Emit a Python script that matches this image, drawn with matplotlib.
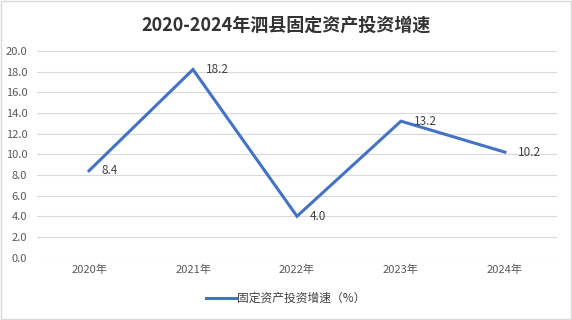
import matplotlib
matplotlib.use("Agg")
import matplotlib.pyplot as plt
from matplotlib.patches import Rectangle

plt.rcParams['font.family'] = ['Noto Sans CJK SC', 'DejaVu Sans']

years = ["2020年", "2021年", "2022年", "2023年", "2024年"]
growth = [8.4, 18.2, 4.0, 13.2, 10.2]
series_name = "固定资产投资增速（%）"
title = "2020-2024年泗县固定资产投资增速"

fig = plt.figure(figsize=(5.72, 3.2), dpi=100)
ax = fig.add_axes([0.0647, 0.195, 0.909, 0.646])

x = list(range(len(years)))
line, = ax.plot(x, growth, color="#4472C4", lw=2.2, solid_joinstyle="miter")

for xi, v in zip(x, growth):
    ax.annotate(f"{v:.1f}", (xi, v), xytext=(9, 0), textcoords="offset points",
                ha="left", va="center", fontsize=8.5, color="#404040")

ax.set_xlim(-0.5, len(years) - 0.5)
ax.set_ylim(0, 20)
ax.set_yticks([i * 2 for i in range(11)])
ax.set_yticklabels([f"{i * 2:.1f}" for i in range(11)])
ax.set_xticks(x)
ax.set_xticklabels(years)
ax.tick_params(length=0, labelsize=8, colors="#595959", pad=5)
ax.tick_params(axis="y", pad=7)
ax.grid(axis="y", color="#D9D9D9", lw=0.8)
ax.set_axisbelow(True)
for s in ax.spines.values():
    s.set_visible(False)

fig.suptitle(title, y=0.95, fontsize=13, fontweight="bold", color="#333333")

fig.legend([line], [series_name], loc="center", bbox_to_anchor=(0.5, 0.068),
           frameon=False, fontsize=8.5, handlelength=2.5, handletextpad=0.15,
           labelcolor="#404040")

# light frame around the whole chart
fig.patches.append(Rectangle((0.002, 0.003), 0.996, 0.994, transform=fig.transFigure,
                             fill=False, edgecolor="#D9D9D9", lw=1.0))

fig.savefig("out.png", dpi=100)
